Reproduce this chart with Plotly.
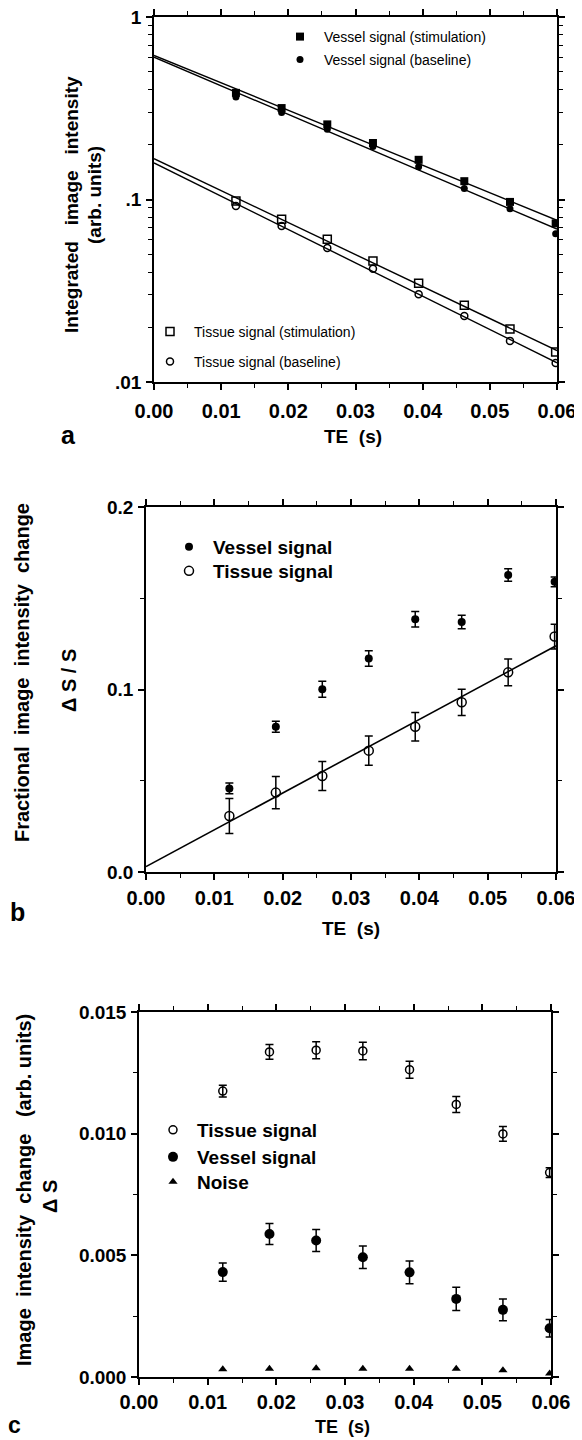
import numpy as np
import plotly.graph_objects as go

# ---------------- data ----------------
TE = [0.0122, 0.0190, 0.0258, 0.0326, 0.0394, 0.0462, 0.0530, 0.0598]

# panel a: integrated image intensity (arb. units)
vessel_stim = [0.384, 0.317, 0.258, 0.204, 0.165, 0.126, 0.097, 0.074]
vessel_base = [0.365, 0.300, 0.243, 0.195, 0.151, 0.115, 0.089, 0.065]
tissue_stim = [0.098, 0.078, 0.0605, 0.046, 0.0348, 0.0263, 0.0195, 0.0146]
tissue_base = [0.092, 0.0716, 0.0542, 0.0417, 0.0303, 0.0230, 0.0168, 0.0127]

# panel b: fractional change dS/S
frac_vessel = [0.0458, 0.0796, 0.1001, 0.117, 0.1385, 0.137, 0.1627, 0.159]
frac_vessel_err = [0.0029, 0.003, 0.0044, 0.0043, 0.0043, 0.0037, 0.0034, 0.0027]
frac_tissue = [0.0307, 0.0435, 0.0526, 0.0665, 0.0796, 0.093, 0.1094, 0.129]
frac_tissue_err = [0.0096, 0.0088, 0.008, 0.008, 0.0078, 0.0072, 0.0073, 0.0068]

# panel c: absolute change dS
abs_tissue = [0.01175, 0.01336, 0.01343, 0.0134, 0.01263, 0.0112, 0.00999, 0.0084]
abs_tissue_err = [0.00024, 0.0003, 0.00035, 0.00036, 0.00035, 0.00033, 0.0003, 0.0002]
abs_vessel = [0.00431, 0.00588, 0.00561, 0.00492, 0.0043, 0.00321, 0.00276, 0.0020]
abs_vessel_err = [0.00038, 0.00043, 0.00045, 0.00046, 0.00047, 0.00048, 0.00045, 0.00036]
abs_noise = [0.00032, 0.00034, 0.00036, 0.00034, 0.00034, 0.00034, 0.00028, 0.00014]

W, H = 582, 1440
PAGE_OFF = 8  # default body margin of the html page
FIT_X = [0.0, 0.06]
NB = "&nbsp;"


def px_x(v):
    return (v - PAGE_OFF) / W


def px_y(v):
    return 1 - (v - PAGE_OFF) / H


BOLD = dict(family="Liberation Sans, Arial, sans-serif", color="black", weight="bold")
PLAIN = dict(family="Liberation Sans, Arial, sans-serif", color="black")

fig = go.Figure()

# one legend per entry so each row sits where the reference has it
ITEMW = 38
legends = {}


def legend_at(name, sym_x, sym_y, font):
    legends[name] = dict(x=px_x(sym_x - ITEMW / 2 - 5), y=px_y(sym_y), xanchor="left",
                         yanchor="middle", bgcolor="rgba(0,0,0,0)", font=font,
                         itemwidth=ITEMW, borderwidth=0)


# ---------- panel a ----------
def exp_fit(x, y):
    k, c = np.polyfit(np.array(x), np.log(np.array(y)), 1)
    return [float(np.exp(c + k * xx)) for xx in FIT_X]


for ys in (vessel_stim, vessel_base, tissue_stim, tissue_base):
    fig.add_trace(go.Scatter(x=FIT_X, y=exp_fit(TE, ys), mode="lines",
                             line=dict(color="black", width=1.4), showlegend=False,
                             xaxis="x", yaxis="y", hoverinfo="skip"))

LA = dict(size=14, **PLAIN)
fig.add_trace(go.Scatter(x=TE, y=vessel_stim, mode="markers", name="Vessel signal (stimulation)",
                         marker=dict(symbol="square", size=8, color="black"),
                         xaxis="x", yaxis="y", legend="legend"))
legend_at("legend", 300, 37, LA)
fig.add_trace(go.Scatter(x=TE, y=vessel_base, mode="markers", name="Vessel signal (baseline)",
                         marker=dict(symbol="circle", size=7, color="black"),
                         xaxis="x", yaxis="y", legend="legend2"))
legend_at("legend2", 300, 60, LA)
fig.add_trace(go.Scatter(x=TE, y=tissue_stim, mode="markers", name="Tissue signal (stimulation)",
                         marker=dict(symbol="square-open", size=8, color="black", line=dict(width=1.5)),
                         xaxis="x", yaxis="y", legend="legend3"))
legend_at("legend3", 170, 332, LA)
fig.add_trace(go.Scatter(x=TE, y=tissue_base, mode="markers", name="Tissue signal (baseline)",
                         marker=dict(symbol="circle-open", size=7, color="black", line=dict(width=1.5)),
                         xaxis="x", yaxis="y", legend="legend4"))
legend_at("legend4", 170, 362, LA)

# ---------- panel b ----------
LB = dict(size=19, **BOLD)
k, c = np.polyfit(np.array(TE), np.array(frac_tissue), 1)
fig.add_trace(go.Scatter(x=FIT_X, y=[c + k * xx for xx in FIT_X], mode="lines",
                         line=dict(color="black", width=1.6), showlegend=False,
                         xaxis="x2", yaxis="y2", hoverinfo="skip"))
fig.add_trace(go.Scatter(x=TE, y=frac_vessel, mode="markers", name="Vessel signal",
                         error_y=dict(type="data", array=frac_vessel_err, color="black",
                                      thickness=1.5, width=4),
                         marker=dict(symbol="circle", size=8, color="black"),
                         xaxis="x2", yaxis="y2", legend="legend5"))
legend_at("legend5", 189, 547, LB)
fig.add_trace(go.Scatter(x=TE, y=frac_tissue, mode="markers", name="Tissue signal",
                         error_y=dict(type="data", array=frac_tissue_err, color="black",
                                      thickness=1.5, width=4),
                         marker=dict(symbol="circle-open", size=9, color="black", line=dict(width=1.5)),
                         xaxis="x2", yaxis="y2", legend="legend6"))
legend_at("legend6", 189, 571, LB)

# ---------- panel c ----------
fig.add_trace(go.Scatter(x=TE, y=abs_tissue, mode="markers", name="Tissue signal",
                         error_y=dict(type="data", array=abs_tissue_err, color="black",
                                      thickness=1.5, width=4),
                         marker=dict(symbol="circle-open", size=8, color="black", line=dict(width=1.5)),
                         xaxis="x3", yaxis="y3", legend="legend7"))
legend_at("legend7", 173, 1130, LB)
fig.add_trace(go.Scatter(x=TE, y=abs_vessel, mode="markers", name="Vessel signal",
                         error_y=dict(type="data", array=abs_vessel_err, color="black",
                                      thickness=1.5, width=4),
                         marker=dict(symbol="circle", size=10, color="black"),
                         xaxis="x3", yaxis="y3", legend="legend8"))
legend_at("legend8", 173, 1157, LB)
fig.add_trace(go.Scatter(x=TE, y=abs_noise, mode="markers", name="Noise",
                         marker=dict(symbol="triangle-up", size=8, color="black"),
                         xaxis="x3", yaxis="y3", legend="legend9"))
legend_at("legend9", 173, 1182, LB)


# ---------- axes ----------
def xaxis(domain, anchor, standoff):
    return dict(domain=domain, anchor=anchor, range=[0, 0.06], dtick=0.01, tick0=0,
                tickformat=".2f", showline=True, linecolor="black", linewidth=1.5,
                mirror="ticks", ticks="outside", ticklen=6, tickwidth=1.5, tickcolor="black",
                minor=dict(dtick=0.005, ticks="outside", ticklen=4, tickwidth=1.2, tickcolor="black"),
                showgrid=False, zeroline=False, tickfont=dict(size=20, **BOLD),
                ticklabelstandoff=standoff, ticklabeloverflow="allow",
                automargin=False, fixedrange=True)


def yaxis_lin(domain, anchor, rng, dtick, fmt, minor_dtick):
    return dict(domain=domain, anchor=anchor, range=rng, dtick=dtick, tick0=0, tickformat=fmt,
                showline=True, linecolor="black", linewidth=1.5, mirror="ticks",
                ticks="outside", ticklen=6, tickwidth=1.5, tickcolor="black",
                minor=dict(dtick=minor_dtick, ticks="outside", ticklen=4, tickwidth=1.2,
                           tickcolor="black"),
                showgrid=False, zeroline=False, tickfont=dict(size=19, **BOLD),
                ticklabelstandoff=1, ticklabeloverflow="allow",
                automargin=False, fixedrange=True)


ax_a = [px_x(154), px_x(557)]
ay_a = [px_y(382), px_y(17)]
ax_b = [px_x(146), px_x(556)]
ay_b = [px_y(872), px_y(507)]
ax_c = [px_x(139), px_x(551)]
ay_c = [px_y(1377), px_y(1012)]

minor_log = [m * 10.0 ** e for e in (-2, -1) for m in range(2, 10)]

fig.update_layout(
    width=W, height=H, margin=dict(l=0, r=0, t=0, b=0, autoexpand=False),
    paper_bgcolor="white", plot_bgcolor="white",
    xaxis=xaxis(ax_a, "y", 4),
    yaxis=dict(domain=ay_a, anchor="x", type="log", range=[-2, 0],
               tickvals=[0.01, 0.1, 1], ticktext=[".01", ".1", "1"],
               showline=True, linecolor="black", linewidth=1.5, mirror="ticks",
               ticks="outside", ticklen=6, tickwidth=1.5, tickcolor="black",
               minor=dict(tickvals=minor_log, ticks="outside", ticklen=4, tickwidth=1.2,
                          tickcolor="black"),
               showgrid=False, zeroline=False, tickfont=dict(size=19, **BOLD),
               ticklabelstandoff=1, ticklabeloverflow="allow",
               automargin=False, fixedrange=True),
    xaxis2=xaxis(ax_b, "y2", 1),
    yaxis2=yaxis_lin(ay_b, "x2", [0, 0.2], 0.1, ".1f", 0.05),
    xaxis3=xaxis(ax_c, "y3", 0),
    yaxis3=yaxis_lin(ay_c, "x3", [0, 0.015], 0.005, ".3f", 0.0025),
    showlegend=True,
    **legends,
)

ann = []


def text(x, y, s, size, angle=0, font=BOLD):
    ann.append(dict(x=px_x(x), y=px_y(y), xref="paper", yref="paper", text=s, showarrow=False,
                    textangle=angle, xanchor="center", yanchor="middle",
                    font=dict(size=size, **font)))


sp2 = NB * 2
sp3 = NB * 3
# panel a titles
text(71, 205, "Integrated" + sp3 + "image" + sp3 + "intensity", 19, -90)
text(95, 195, "(arb." + NB + "units)", 19, -90)
text(353, 437, "TE" + sp2 + "(s)", 19)
text(68, 435, "a", 25)
# panel b titles
text(22, 673, "Fractional" + sp2 + "image" + sp2 + "intensity" + sp2 + "change", 20, -90)
text(69, 681, "Δ" + NB + "S" + NB + "/" + NB + "S", 20, -90)
text(351, 929, "TE" + sp2 + "(s)", 19)
text(17, 912, "b", 25)
# panel c titles
text(24, 1190, "Image" + sp2 + "intensity" + sp2 + "change" + sp3 + "(arb." + NB + "units)", 20, -90)
text(50, 1196, "Δ" + NB + "S", 20, -90)
text(342, 1427, "TE" + sp2 + "(s)", 18)
text(14, 1425, "c", 23)

fig.update_layout(annotations=ann)
fig.write_html("out.html")
